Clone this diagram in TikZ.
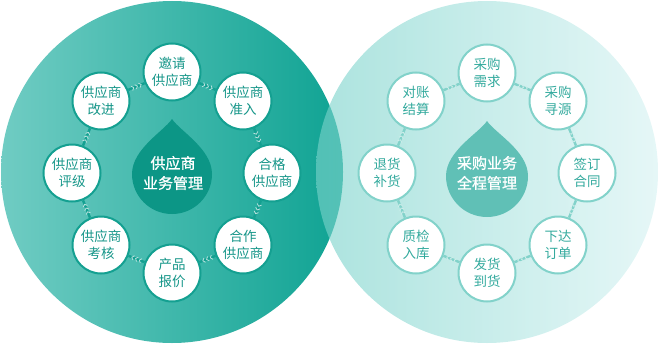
\documentclass[tikz,border=0pt]{standalone}
\usepackage{fontspec}
\setmainfont{Noto Sans CJK SC}
\newfontfamily\cjkm[FakeBold=0.8]{Noto Sans CJK SC}
\usetikzlibrary{decorations.markings}
\definecolor{lcA}{RGB}{112,204,195}
\definecolor{lcB}{RGB}{15,163,147}
\definecolor{rcA}{RGB}{120,210,202}
\definecolor{rcB}{RGB}{214,242,242}
\definecolor{lborder}{RGB}{20,160,145}
\definecolor{ltext}{RGB}{22,150,137}
\definecolor{ldrop}{RGB}{12,150,134}
\definecolor{rborder}{RGB}{130,210,202}
\definecolor{rtext}{RGB}{52,170,158}
\definecolor{rdrop}{RGB}{96,192,182}
\tikzset{
  sbL/.style={circle, draw=lborder, line width=2pt, fill=white, minimum size=57pt, inner sep=0pt, align=center, text=ltext, font=\fontsize{13.5}{17.5}\selectfont},
  sbR/.style={circle, draw=rborder, line width=2pt, fill=white, minimum size=57pt, inner sep=0pt, align=center, text=rtext, font=\fontsize{13.5}{17.5}\selectfont},
  ctext/.style={align=center, text=white, font=\cjkm\fontsize{15}{20}\selectfont},
  chev/.style={decoration={markings, mark=at position 0.5 with {
      \draw[#1, line width=0.8pt] (-5pt,-2.3pt)--(-3pt,0pt)--(-5pt,2.3pt);
      \draw[#1, line width=0.8pt] (-1pt,-2.3pt)--(1pt,0pt)--(-1pt,2.3pt);
      \draw[#1, line width=0.8pt] (3pt,-2.3pt)--(5pt,0pt)--(3pt,2.3pt);}}, postaction=decorate},
  connL/.style={draw=lborder, line width=2.4pt, chev={white!70!lborder}},
  connR/.style={draw=rborder, line width=2.4pt, chev={white!60!rborder}}
}
\begin{document}
\begin{tikzpicture}[x=1pt,y=-1pt]
\useasboundingbox (0,0) rectangle (660,345);
% big circles
\shade[left color=lcA, right color=lcB] (172,172) circle[radius=171];
\shade[left color=rcA, right color=rcB, fill opacity=0.62] (487,172) circle[radius=171];
% drops
\fill[ldrop] (172,119) .. controls (180,131) and (212,149) .. (212,174) arc[start angle=0,end angle=180,radius=40] .. controls (132,149) and (164,131) .. (172,119) -- cycle;
\fill[rdrop] (487,121) .. controls (495,133) and (528,151) .. (528,176) arc[start angle=0,end angle=180,radius=41] .. controls (446,151) and (479,133) .. (487,121) -- cycle;
\node[ctext] (lc) at (173,173) {供应商\\业务管理};
\node[ctext] (rc) at (487,173) {采购业务\\全程管理};
% left ring
\node[sbL] (l1) at (172,72) {邀请\\供应商};
\node[sbL] (l2) at (243,101) {供应商\\准入};
\node[sbL] (l3) at (272,173) {合格\\供应商};
\node[sbL] (l4) at (243,245) {合作\\供应商};
\node[sbL] (l5) at (172,273) {产品\\报价};
\node[sbL] (l6) at (101,245) {供应商\\考核};
\node[sbL] (l7) at (72,173) {供应商\\评级};
\node[sbL] (l8) at (101,101) {供应商\\改进};
\foreach \a/\b in {l1/l2,l2/l3,l3/l4,l4/l5,l5/l6,l6/l7,l7/l8,l8/l1}
  \path[connL] (\a) -- (\b);
% right ring
\node[sbR] (r1) at (487,73) {采购\\需求};
\node[sbR] (r2) at (558,101) {采购\\寻源};
\node[sbR] (r3) at (587,173) {签订\\合同};
\node[sbR] (r4) at (558,245) {下达\\订单};
\node[sbR] (r5) at (487,273) {发货\\到货};
\node[sbR] (r6) at (416,245) {质检\\入库};
\node[sbR] (r7) at (387,173) {退货\\补货};
\node[sbR] (r8) at (416,101) {对账\\结算};
\foreach \a/\b in {r1/r2,r2/r3,r3/r4,r4/r5,r5/r6,r6/r7,r7/r8,r8/r1}
  \path[connR] (\a) -- (\b);
\end{tikzpicture}
\end{document}
